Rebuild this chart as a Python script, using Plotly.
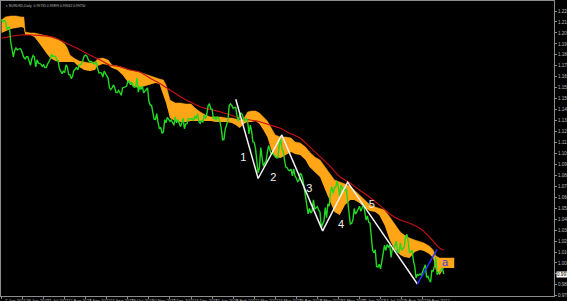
import plotly.graph_objects as go

# ---------------- data (EURUSD, Daily closes, 7 Jun 2021 .. 20 Sep 2022) ----------------
c2021_06 = [1.2190, 1.2172, 1.2180, 1.2174, 1.2107, 1.2120, 1.2126, 1.1995, 1.1908, 1.1863,
            1.1918, 1.1941, 1.1926, 1.1933, 1.1937, 1.1924, 1.1895, 1.1858]
c2021_07 = [1.1847, 1.1865, 1.1865, 1.1823, 1.1790, 1.1845, 1.1875, 1.1862, 1.1776, 1.1838,
            1.1810, 1.1806, 1.1800, 1.1780, 1.1795, 1.1771, 1.1771, 1.1801, 1.1819, 1.1843,
            1.1888, 1.1869]
c2021_08 = [1.1870, 1.1868, 1.1836, 1.1833, 1.1762, 1.1736, 1.1718, 1.1739, 1.1727, 1.1795,
            1.1777, 1.1712, 1.1709, 1.1675, 1.1698, 1.1747, 1.1755, 1.1774, 1.1751, 1.1795,
            1.1796, 1.1807]
c2021_09 = [1.1838, 1.1874, 1.1880, 1.1869, 1.1837, 1.1820, 1.1826, 1.1815, 1.1806, 1.1803,
            1.1822, 1.1765, 1.1725, 1.1727, 1.1724, 1.1688, 1.1740, 1.1718, 1.1696, 1.1681,
            1.1597, 1.1580]
c2021_10 = [1.1595, 1.1620, 1.1597, 1.1555, 1.1554, 1.1572, 1.1552, 1.1530, 1.1594, 1.1597,
            1.1600, 1.1608, 1.1650, 1.1655, 1.1622, 1.1645, 1.1609, 1.1600, 1.1605, 1.1680,
            1.1558]
c2021_11 = [1.1607, 1.1581, 1.1611, 1.1552, 1.1567, 1.1587, 1.1594, 1.1478, 1.1445, 1.1443,
            1.1368, 1.1320, 1.1319, 1.1369, 1.1290, 1.1238, 1.1250, 1.1199, 1.1210, 1.1318,
            1.1290, 1.1338]
c2021_12 = [1.1320, 1.1303, 1.1315, 1.1284, 1.1269, 1.1342, 1.1291, 1.1316, 1.1284, 1.1258,
            1.1288, 1.1331, 1.1239, 1.1281, 1.1283, 1.1328, 1.1327, 1.1320, 1.1328, 1.1310,
            1.1350, 1.1325, 1.1370]
c2022_01 = [1.1298, 1.1287, 1.1313, 1.1295, 1.1360, 1.1325, 1.1367, 1.1440, 1.1456, 1.1412,
            1.1410, 1.1325, 1.1344, 1.1310, 1.1345, 1.1326, 1.1301, 1.1240, 1.1143, 1.1146,
            1.1235]
c2022_02 = [1.1272, 1.1305, 1.1440, 1.1456, 1.1442, 1.1416, 1.1422, 1.1425, 1.1348, 1.1306,
            1.1358, 1.1374, 1.1362, 1.1322, 1.1308, 1.1330, 1.1309, 1.1193, 1.1270, 1.1220]
c2022_03 = [1.1125, 1.1120, 1.1065, 1.0930, 1.0855, 1.0900, 1.1075, 1.0985, 1.0912, 1.0942,
            1.0955, 1.1034, 1.1092, 1.1052, 1.1015, 1.1030, 1.1005, 1.0995, 1.0985, 1.0985,
            1.1090, 1.1160, 1.1067]
c2022_04 = [1.1045, 1.0970, 1.0905, 1.0900, 1.0880, 1.0875, 1.0887, 1.0828, 1.0890, 1.0827,
            1.0810, 1.0780, 1.0790, 1.0852, 1.0837, 1.0797, 1.0714, 1.0640, 1.0560, 1.0498,
            1.0545]
c2022_05 = [1.0505, 1.0523, 1.0620, 1.0540, 1.0548, 1.0560, 1.0530, 1.0515, 1.0380, 1.0410,
            1.0435, 1.0552, 1.0465, 1.0585, 1.0565, 1.0690, 1.0733, 1.0677, 1.0725, 1.0733,
            1.0780, 1.0733]
c2022_06 = [1.0650, 1.0750, 1.0720, 1.0700, 1.0705, 1.0715, 1.0615, 1.0520, 1.0410, 1.0415,
            1.0445, 1.0545, 1.0495, 1.0515, 1.0535, 1.0565, 1.0520, 1.0555, 1.0585, 1.0520,
            1.0445, 1.0480]
c2022_07 = [1.0425, 1.0420, 1.0265, 1.0180, 1.0160, 1.0185, 1.0040, 1.0035, 1.0060, 1.0020,
            1.0085, 1.0140, 1.0225, 1.0180, 1.0230, 1.0210, 1.0225, 1.0120, 1.0200, 1.0195,
            1.0225]
c2022_08 = [1.0260, 1.0165, 1.0165, 1.0245, 1.0180, 1.0195, 1.0210, 1.0300, 1.0320, 1.0260,
            1.0160, 1.0170, 1.0180, 1.0090, 1.0040, 0.9940, 0.9970, 0.9965, 0.9975, 0.9965,
            1.0000, 1.0020, 1.0055]
c2022_09 = [0.9945, 0.9955, 0.9925, 0.9905, 1.0005, 1.0000, 1.0045, 1.0120, 0.9970, 0.9980,
            0.9995, 1.0015, 1.0025, 0.9975]

closes = (c2021_06 + c2021_07 + c2021_08 + c2021_09 + c2021_10 + c2021_11 + c2021_12 +
          c2022_01 + c2022_02 + c2022_03 + c2022_04 + c2022_05 + c2022_06 + c2022_07 +
          c2022_08 + c2022_09)
bar_idx = list(range(len(closes)))

# moving average (red)
ma_idx = [0, 6, 14, 24, 37, 44, 52, 60, 67, 75, 82, 90, 98, 105, 113, 120, 128, 136, 143, 151,
          158, 166, 174, 181, 189, 196, 204, 212, 219, 227, 234, 242, 250, 257, 265, 272, 280,
          288, 295, 303, 310, 318, 326, 333, 336]
ma_val = [1.2026, 1.2040, 1.2054, 1.2054, 1.2040, 1.2011, 1.1967, 1.1924, 1.1880, 1.1837,
          1.1793, 1.1779, 1.1750, 1.1733, 1.1678, 1.1634, 1.1576, 1.1518, 1.1474, 1.1431,
          1.1408, 1.1387, 1.1358, 1.1330, 1.1315, 1.1300, 1.1271, 1.1243, 1.1199, 1.1156,
          1.1083, 1.0996, 1.0909, 1.0822, 1.0764, 1.0706, 1.0641, 1.0568, 1.0497, 1.0445,
          1.0416, 1.0373, 1.0286, 1.0199, 1.0184]

# Ichimoku cloud (orange)
cloud_idx = [0, 3, 7, 11, 15, 17, 18, 22, 25, 28, 31, 34, 37, 41, 44, 48, 50, 52, 55, 59, 63, 67,
             71, 73, 77, 81, 84, 88, 92, 96, 100, 104, 109, 113, 117, 120, 123, 125, 128, 132,
             136, 140, 144, 147, 151, 155, 159, 163, 167, 171, 175, 178, 181, 184, 187, 190,
             193, 196, 199, 202, 205, 208, 212, 216, 220, 223, 227, 231, 234, 238, 242, 246,
             249, 253, 257, 261, 265, 268, 272, 276, 280, 284, 287, 291, 295, 299, 303, 306,
             310, 314, 318, 321, 325, 328, 330, 333, 336, 340, 344]
cloud_top = [1.2185, 1.2211, 1.2220, 1.2220, 1.2211, 1.2211, 1.2081, 1.2072, 1.2072, 1.2063,
             1.2054, 1.2046, 1.2037, 1.2028, 1.2011, 1.1976, 1.1941, 1.1880, 1.1854, 1.1828,
             1.1820, 1.1811, 1.1820, 1.1846, 1.1854, 1.1837, 1.1793, 1.1785, 1.1767, 1.1750,
             1.1741, 1.1733, 1.1715, 1.1698, 1.1680, 1.1672, 1.1663, 1.1619, 1.1489, 1.1463,
             1.1463, 1.1454, 1.1454, 1.1419, 1.1385, 1.1358, 1.1341, 1.1341, 1.1341, 1.1332,
             1.1332, 1.1324, 1.1315, 1.1324, 1.1385, 1.1393, 1.1393, 1.1376, 1.1341, 1.1306,
             1.1245, 1.1184, 1.1167, 1.1167, 1.1158, 1.1124, 1.1115, 1.1080, 1.1037, 1.0993,
             1.0967, 1.0906, 1.0862, 1.0793, 1.0776, 1.0758, 1.0741, 1.0706, 1.0662, 1.0619,
             1.0575, 1.0558, 1.0549, 1.0532, 1.0471, 1.0401, 1.0341, 1.0314, 1.0288, 1.0271,
             1.0254, 1.0245, 1.0219, 1.0184, 1.0132, 1.0114, 1.0114, 1.0114, 1.0114]
cloud_bot = [1.2072, 1.2089, 1.2107, 1.2115, 1.2124, 1.2115, 1.2054, 1.2054, 1.2037, 1.1993,
             1.1941, 1.1898, 1.1854, 1.1828, 1.1820, 1.1820, 1.1820, 1.1820, 1.1820, 1.1776,
             1.1750, 1.1741, 1.1750, 1.1785, 1.1802, 1.1793, 1.1767, 1.1750, 1.1706, 1.1646,
             1.1611, 1.1593, 1.1611, 1.1628, 1.1637, 1.1628, 1.1532, 1.1463, 1.1332, 1.1306,
             1.1298, 1.1298, 1.1306, 1.1306, 1.1306, 1.1306, 1.1306, 1.1298, 1.1298, 1.1298,
             1.1289, 1.1271, 1.1245, 1.1280, 1.1298, 1.1298, 1.1306, 1.1280, 1.1228, 1.1167,
             1.1054, 1.0993, 1.0984, 1.1010, 1.1037, 1.1019, 1.1010, 1.0967, 1.0906, 1.0862,
             1.0819, 1.0706, 1.0619, 1.0515, 1.0488, 1.0575, 1.0619, 1.0619, 1.0593, 1.0549,
             1.0523, 1.0515, 1.0488, 1.0401, 1.0271, 1.0184, 1.0140, 1.0123, 1.0114, 1.0166,
             1.0184, 1.0175, 1.0149, 1.0114, 1.0010, 0.9966, 1.0027, 1.0027, 1.0027]

# Elliott wave count
wave_idx = [178, 195, 213, 244, 263, 316]
wave_px = [1.1495, 1.0806, 1.1185, 1.0350, 1.0774, 0.9888]
corr_idx = [316, 331]
corr_px = [0.9888, 1.0190]
wave_labels = ["1", "2", "3", "4", "5"]
wave_label_idx = [183.7, 206.5, 233.9, 258.0, 281.3]
wave_label_px = [1.0982, 1.0808, 1.0712, 1.0401, 1.0575]
corr_label = "a"
corr_label_idx = 337
corr_label_px = 1.0073

# axes
date_tick_idx = [0, 16, 32, 48, 64, 80, 96, 112, 128, 144, 160, 176, 192, 208, 224, 240, 256,
                 272, 288, 304, 320]
date_tick_text = ["7 Jun 2021", "29 Jun 2021", "21 Jul 2021", "12 Aug 2021", "3 Sep 2021",
                  "27 Sep 2021", "19 Oct 2021", "10 Nov 2021", "2 Dec 2021", "24 Dec 2021",
                  "17 Jan 2022", "8 Feb 2022", "2 Mar 2022", "24 Mar 2022", "15 Apr 2022",
                  "9 May 2022", "31 May 2022", "22 Jun 2022", "14 Jul 2022", "5 Aug 2022",
                  "29 Aug 2022"]
price_ticks = [1.22630, 1.21677, 1.20724, 1.19771, 1.18818, 1.17865, 1.16912, 1.15959, 1.15006,
               1.14053, 1.13100, 1.12147, 1.11194, 1.10241, 1.09288, 1.08335, 1.07382, 1.06429,
               1.05476, 1.04523, 1.03570, 1.02617, 1.01664, 1.00711, 0.99758, 0.98805, 0.97852]
price_tick_text = [f"{v:.5f}" for v in price_ticks]
last_price = 0.99750
header = "\u25be EURUSD,Daily  0.99735 0.99899 0.99562 0.99750"

# ---------------- figure ----------------
ORANGE = "#FFA516"
FONT = "Liberation Sans"
fig = go.Figure()

fig.add_trace(go.Scatter(x=cloud_idx, y=cloud_bot, mode="lines", line=dict(width=0, color=ORANGE),
                         hoverinfo="skip", showlegend=False))
fig.add_trace(go.Scatter(x=cloud_idx, y=cloud_top, mode="lines", line=dict(width=0.5, color=ORANGE),
                         fill="tonexty", fillcolor=ORANGE, hoverinfo="skip", showlegend=False))
fig.add_trace(go.Scatter(x=ma_idx, y=ma_val, mode="lines", line=dict(color="#C81212", width=1.1),
                         line_shape="spline", showlegend=False))
fig.add_trace(go.Scatter(x=bar_idx, y=closes, mode="lines", line=dict(color="#22D822", width=1.4),
                         showlegend=False))
fig.add_trace(go.Scatter(x=wave_idx, y=wave_px, mode="lines", line=dict(color="#F2F2F2", width=1.5),
                         showlegend=False))
fig.add_trace(go.Scatter(x=corr_idx, y=corr_px, mode="lines", line=dict(color="#2238FF", width=1.5),
                         showlegend=False))
fig.add_trace(go.Scatter(x=wave_label_idx, y=wave_label_px, mode="text", text=wave_labels,
                         textfont=dict(color="#F2F2F2", size=11, family=FONT),
                         showlegend=False))
fig.add_trace(go.Scatter(x=[corr_label_idx], y=[corr_label_px], mode="text", text=[corr_label],
                         textfont=dict(color="#3F3FE0", size=11, family=FONT),
                         showlegend=False))

annotations = []
for i, t in zip(date_tick_idx, date_tick_text):
    annotations.append(dict(x=i, y=0, xref="x", yref="paper", text=t, showarrow=False,
                            xanchor="left", yanchor="top", xshift=1, yshift=0,
                            font=dict(size=4.2, color="#BFBFBF", family=FONT)))
annotations.append(dict(x=1, y=last_price, xref="paper", yref="y", text=f"{last_price:.5f}",
                        showarrow=False, xanchor="left", yanchor="middle", xshift=2,
                        bgcolor="#FFFFFF", font=dict(size=4.6, color="#000000", family=FONT),
                        borderpad=0))
annotations.append(dict(x=0, y=1, xref="paper", yref="paper", text=header, showarrow=False,
                        xanchor="left", yanchor="top", xshift=3, yshift=-1,
                        font=dict(size=3.4, color="#BFBFBF", family=FONT)))

fig.update_layout(
    width=567, height=301,
    margin=dict(l=1, r=13, t=1, b=5, autoexpand=False),
    paper_bgcolor="#000000", plot_bgcolor="#000000",
    showlegend=False,
    annotations=annotations,
    xaxis=dict(range=[-0.38, 419.8], showgrid=False, zeroline=False, automargin=False,
               tickvals=date_tick_idx, ticks="outside", ticklen=2, tickcolor="#8C8C8C",
               showticklabels=False, showline=True, linecolor="#8C8C8C", linewidth=1,
               mirror=True, fixedrange=True),
    yaxis=dict(range=[0.97837, 1.23502], side="right", showgrid=False, zeroline=False,
               automargin=False,
               tickvals=price_ticks, ticktext=price_tick_text, ticks="outside", ticklen=2,
               tickcolor="#8C8C8C", tickfont=dict(size=4.6, color="#BFBFBF", family=FONT),
               showline=True, linecolor="#8C8C8C", linewidth=1, mirror=True, fixedrange=True),
)

fig.write_html("out.html")
